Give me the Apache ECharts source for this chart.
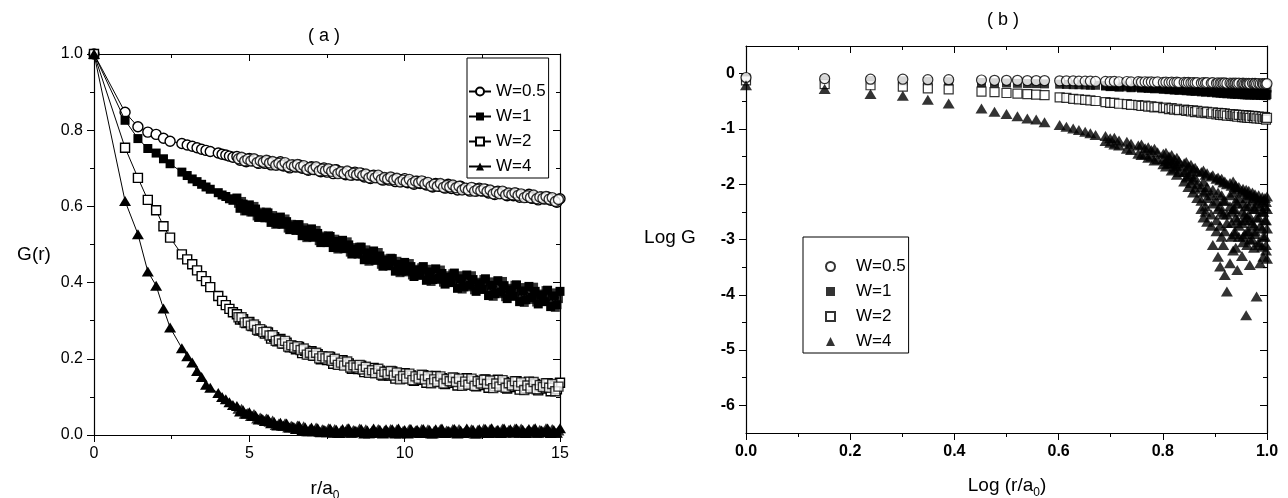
<!DOCTYPE html>
<html>
<head>
<meta charset="utf-8">
<script src="https://cdn.jsdelivr.net/npm/echarts@6/dist/echarts.min.js"></script>
<style>
html,body{margin:0;padding:0;background:#fff;}
#c{width:1288px;height:498px;}
</style>
</head>
<body>
<div id="c"></div>
<script>
// ---------- Panel (a): G(r) vs r/a0 ----------
const rL = [0,1,1.414,1.732,2,2.236,2.449,2.828,3,3.162,3.317,3.464,3.606,3.742,4,4.123,4.243,4.359,4.472,
4.6,4.7,4.8,4.9,5.0,5.1,5.2,5.3,5.4,5.5,
5.6,5.7,5.8,5.9,6.0,6.1,6.2,6.3,6.4,6.5,
6.6,6.7,6.8,6.9,7.0,7.1,7.2,7.3,7.4,7.5,
7.6,7.7,7.8,7.9,8.0,8.1,8.2,8.3,8.4,8.5,
8.6,8.7,8.8,8.9,9.0,9.1,9.2,9.3,9.4,9.5,
9.6,9.7,9.8,9.9,10.0,10.1,10.2,10.3,10.4,10.5,
10.6,10.7,10.8,10.9,11.0,11.1,11.2,11.3,11.4,11.5,
11.6,11.7,11.8,11.9,12.0,12.1,12.2,12.3,12.4,12.5,
12.6,12.7,12.8,12.9,13.0,13.1,13.2,13.3,13.4,13.5,
13.6,13.7,13.8,13.9,14.0,14.1,14.2,14.3,14.4,14.5,
14.6,14.7,14.8,14.9,15.0];

const gW05 = [1,0.847,0.809,0.795,0.789,0.779,0.771,0.765,0.761,0.758,0.754,0.750,0.747,0.744,0.740,0.737,0.735,0.732,0.729,
0.731,0.721,0.726,0.717,0.726,0.720,0.722,0.713,0.718,0.713,
0.719,0.709,0.715,0.709,0.717,0.706,0.709,0.701,0.709,0.703,
0.709,0.700,0.703,0.695,0.704,0.697,0.700,0.691,0.701,0.690,
0.696,0.686,0.696,0.688,0.690,0.683,0.690,0.682,0.690,0.682,
0.687,0.677,0.682,0.673,0.682,0.676,0.678,0.669,0.674,0.669,
0.675,0.665,0.671,0.665,0.673,0.662,0.666,0.658,0.666,0.660,
0.665,0.656,0.659,0.651,0.660,0.653,0.657,0.648,0.658,0.647,
0.653,0.643,0.653,0.645,0.647,0.640,0.648,0.640,0.648,0.640,
0.645,0.635,0.640,0.631,0.640,0.634,0.637,0.628,0.633,0.628,
0.634,0.624,0.630,0.624,0.632,0.621,0.625,0.617,0.625,0.619,
0.625,0.616,0.619,0.611,0.620];

const gW1 = [1,0.826,0.778,0.752,0.740,0.725,0.712,0.690,0.681,0.672,0.665,0.658,0.651,0.645,0.636,0.630,0.626,0.620,0.616,
0.622,0.595,0.606,0.589,0.604,0.586,0.593,0.571,0.581,0.570,
0.583,0.558,0.570,0.555,0.572,0.554,0.560,0.539,0.549,0.537,
0.552,0.523,0.538,0.521,0.541,0.520,0.529,0.505,0.518,0.505,
0.521,0.492,0.508,0.491,0.511,0.490,0.499,0.475,0.488,0.475,
0.493,0.460,0.478,0.460,0.483,0.460,0.470,0.443,0.458,0.444,
0.463,0.430,0.448,0.430,0.453,0.431,0.442,0.416,0.432,0.419,
0.442,0.406,0.428,0.408,0.436,0.411,0.424,0.396,0.414,0.400,
0.425,0.385,0.410,0.389,0.420,0.393,0.408,0.377,0.397,0.382,
0.410,0.366,0.393,0.371,0.405,0.375,0.392,0.358,0.381,0.364,
0.394,0.350,0.378,0.355,0.390,0.361,0.377,0.344,0.367,0.350,
0.380,0.337,0.365,0.342,0.377];

const gW2 = [1,0.754,0.675,0.617,0.590,0.548,0.518,0.474,0.461,0.448,0.432,0.417,0.404,0.388,0.365,0.352,0.341,0.331,0.322,
0.317,0.303,0.304,0.294,0.297,0.286,0.285,0.274,0.274,0.266,
0.269,0.253,0.257,0.246,0.252,0.240,0.242,0.230,0.233,0.225,
0.231,0.215,0.221,0.212,0.220,0.208,0.212,0.199,0.204,0.197,
0.205,0.187,0.196,0.185,0.196,0.184,0.188,0.174,0.180,0.173,
0.182,0.165,0.175,0.165,0.176,0.164,0.169,0.156,0.163,0.156,
0.167,0.148,0.159,0.149,0.162,0.150,0.156,0.142,0.151,0.145,
0.157,0.137,0.150,0.140,0.155,0.141,0.149,0.134,0.143,0.137,
0.150,0.130,0.143,0.133,0.149,0.135,0.143,0.128,0.138,0.131,
0.146,0.124,0.138,0.128,0.145,0.130,0.139,0.122,0.133,0.126,
0.141,0.119,0.133,0.123,0.140,0.125,0.134,0.117,0.128,0.122,
0.136,0.115,0.129,0.120,0.137];

const gW4 = [1,0.614,0.527,0.429,0.392,0.332,0.282,0.228,0.207,0.190,0.168,0.152,0.132,0.124,0.110,0.100,0.094,0.086,0.079,
0.076,0.062,0.065,0.056,0.060,0.050,0.051,0.041,0.043,0.037,
0.042,0.031,0.034,0.025,0.032,0.024,0.030,0.020,0.022,0.016,
0.025,0.012,0.020,0.010,0.020,0.011,0.018,0.007,0.014,0.007,
0.017,0.006,0.014,0.005,0.016,0.009,0.018,0.006,0.012,0.007,
0.016,0.004,0.012,0.005,0.017,0.007,0.014,0.004,0.015,0.006,
0.015,0.004,0.017,0.006,0.013,0.004,0.016,0.007,0.014,0.005,
0.016,0.005,0.013,0.004,0.015,0.008,0.017,0.005,0.011,0.006,
0.016,0.004,0.012,0.005,0.017,0.007,0.014,0.004,0.015,0.006,
0.016,0.005,0.018,0.007,0.014,0.005,0.017,0.008,0.015,0.006,
0.017,0.006,0.014,0.005,0.016,0.009,0.018,0.006,0.012,0.007,
0.017,0.005,0.013,0.006,0.018];

// extra sites lying between the sampled distances (dense tail of panel a)
const rMid = [4.65,4.75,4.85,4.95,5.05,5.15,5.25,5.35,5.45,5.55,
5.65,5.75,5.85,5.95,6.05,6.15,6.25,6.35,6.45,6.55,
6.65,6.75,6.85,6.95,7.05,7.15,7.25,7.35,7.45,7.55,
7.65,7.75,7.85,7.95,8.05,8.15,8.25,8.35,8.45,8.55,
8.65,8.75,8.85,8.95,9.05,9.15,9.25,9.35,9.45,9.55,
9.65,9.75,9.85,9.95,10.05,10.15,10.25,10.35,10.45,10.55,
10.65,10.75,10.85,10.95,11.05,11.15,11.25,11.35,11.45,11.55,
11.65,11.75,11.85,11.95,12.05,12.15,12.25,12.35,12.45,12.55,
12.65,12.75,12.85,12.95,13.05,13.15,13.25,13.35,13.45,13.55,
13.65,13.75,13.85,13.95,14.05,14.15,14.25,14.35,14.45,14.55,
14.65,14.75,14.85,14.95];

const gW05b = [0.725,0.729,0.719,0.724,0.719,0.725,0.715,0.720,0.716,0.721,
0.714,0.718,0.708,0.713,0.708,0.715,0.704,0.709,0.705,0.710,
0.703,0.707,0.697,0.702,0.697,0.704,0.693,0.698,0.694,0.699,
0.692,0.696,0.686,0.691,0.686,0.693,0.682,0.687,0.683,0.688,
0.681,0.685,0.675,0.680,0.675,0.682,0.671,0.676,0.672,0.677,
0.670,0.674,0.664,0.669,0.664,0.671,0.661,0.666,0.662,0.667,
0.659,0.663,0.653,0.658,0.653,0.660,0.650,0.655,0.651,0.656,
0.649,0.653,0.643,0.648,0.643,0.650,0.640,0.645,0.641,0.646,
0.639,0.643,0.633,0.638,0.633,0.640,0.630,0.635,0.631,0.636,
0.629,0.633,0.623,0.628,0.623,0.630,0.620,0.625,0.621,0.626,
0.619,0.623,0.613,0.618];

const gW1b = [0.608,0.613,0.588,0.596,0.585,0.600,0.575,0.585,0.577,0.585,
0.570,0.576,0.553,0.563,0.553,0.567,0.543,0.553,0.544,0.552,
0.537,0.544,0.518,0.530,0.519,0.537,0.510,0.522,0.513,0.523,
0.506,0.514,0.488,0.500,0.489,0.507,0.480,0.492,0.483,0.493,
0.475,0.486,0.456,0.470,0.458,0.479,0.448,0.462,0.453,0.464,
0.445,0.456,0.426,0.440,0.428,0.450,0.420,0.435,0.427,0.439,
0.422,0.435,0.403,0.421,0.408,0.433,0.401,0.418,0.408,0.423,
0.403,0.418,0.383,0.403,0.389,0.418,0.381,0.401,0.391,0.408,
0.385,0.402,0.364,0.386,0.371,0.403,0.363,0.385,0.374,0.393,
0.369,0.387,0.348,0.371,0.356,0.388,0.349,0.370,0.360,0.379,
0.356,0.373,0.335,0.358];

const gW2b = [0.309,0.309,0.295,0.296,0.287,0.290,0.276,0.278,0.270,0.271,
0.261,0.262,0.247,0.249,0.240,0.247,0.232,0.236,0.229,0.233,
0.223,0.227,0.211,0.216,0.208,0.216,0.201,0.207,0.201,0.206,
0.195,0.200,0.184,0.190,0.182,0.193,0.177,0.183,0.177,0.184,
0.172,0.179,0.163,0.170,0.162,0.174,0.158,0.166,0.160,0.168,
0.156,0.164,0.146,0.155,0.148,0.161,0.144,0.154,0.148,0.158,
0.146,0.155,0.136,0.146,0.139,0.154,0.135,0.147,0.141,0.151,
0.139,0.148,0.129,0.140,0.132,0.148,0.129,0.141,0.135,0.145,
0.134,0.143,0.123,0.135,0.127,0.144,0.124,0.136,0.130,0.141,
0.129,0.138,0.118,0.130,0.122,0.139,0.120,0.131,0.126,0.136,
0.124,0.134,0.115,0.127];

const gW4b = [0.069,0.069,0.056,0.058,0.050,0.055,0.043,0.046,0.040,0.043,
0.035,0.038,0.026,0.030,0.024,0.031,0.020,0.024,0.020,0.025,
0.018,0.023,0.010,0.016,0.010,0.020,0.008,0.015,0.011,0.018,
0.010,0.016,0.005,0.012,0.007,0.017,0.006,0.013,0.010,0.017,
0.009,0.015,0.004,0.011,0.006,0.016,0.005,0.012,0.009,0.016,
0.009,0.015,0.004,0.011,0.006,0.016,0.005,0.012,0.009,0.016,
0.009,0.015,0.004,0.011,0.006,0.016,0.005,0.012,0.009,0.016,
0.011,0.016,0.005,0.010,0.007,0.015,0.004,0.013,0.009,0.017,
0.010,0.016,0.005,0.012,0.007,0.017,0.006,0.013,0.010,0.017,
0.012,0.017,0.006,0.011,0.008,0.016,0.005,0.014,0.010,0.018,
0.010,0.016,0.005,0.012];

// ---------- Panel (b): Log G vs Log(r/a0) ----------
const L = [0,0.151,0.239,0.301,0.349,0.389,0.452,0.477,0.5,0.521,0.540,0.557,0.573,0.602,0.615,0.628,0.639,0.651,0.661,0.671,
0.690,0.699,0.707,0.716,0.731,0.739,0.753,0.759,0.766,0.772,
0.778,0.784,0.790,0.801,0.806,0.812,0.817,0.822,0.827,0.831,
0.841,0.845,0.849,0.854,0.858,0.862,0.866,0.874,0.878,0.882,
0.885,0.893,0.896,0.903,0.906,0.910,0.913,0.916,0.919,0.923,
0.929,0.932,0.935,0.938,0.940,0.943,0.946,0.952,0.954,0.957,
0.960,0.962,0.965,0.967,0.972,0.975,0.977,0.980,0.984,0.987,
0.991,0.993,0.996,0.998,1.0];

const logW05 = [-0.07,-0.09,-0.10,-0.10,-0.11,-0.11,-0.115,-0.12,-0.12,-0.12,-0.125,-0.125,-0.125,-0.13,-0.13,-0.13,-0.135,-0.135,-0.135,-0.14,
-0.140,-0.145,-0.140,-0.147,-0.142,-0.150,-0.145,-0.152,-0.147,-0.154,
-0.148,-0.156,-0.150,-0.158,-0.152,-0.160,-0.153,-0.162,-0.155,-0.163,
-0.157,-0.165,-0.158,-0.166,-0.160,-0.168,-0.161,-0.170,-0.162,-0.171,
-0.163,-0.172,-0.164,-0.174,-0.166,-0.175,-0.167,-0.176,-0.168,-0.177,
-0.169,-0.178,-0.170,-0.179,-0.171,-0.180,-0.172,-0.181,-0.173,-0.182,
-0.174,-0.183,-0.175,-0.184,-0.176,-0.185,-0.177,-0.186,-0.178,-0.187,
-0.179,-0.188,-0.180,-0.189,-0.180];

const logW1 = [-0.08,-0.11,-0.125,-0.13,-0.14,-0.145,-0.16,-0.165,-0.17,-0.175,-0.18,-0.18,-0.185,-0.19,-0.195,-0.2,-0.2,-0.205,-0.21,-0.21,
-0.215,-0.235,-0.218,-0.245,-0.220,-0.255,-0.222,-0.262,-0.225,-0.268,
-0.226,-0.275,-0.228,-0.285,-0.230,-0.290,-0.232,-0.298,-0.234,-0.303,
-0.236,-0.310,-0.238,-0.316,-0.240,-0.322,-0.275,-0.330,-0.242,-0.336,
-0.280,-0.343,-0.244,-0.350,-0.290,-0.355,-0.246,-0.360,-0.300,-0.365,
-0.248,-0.370,-0.305,-0.373,-0.250,-0.376,-0.310,-0.380,-0.252,-0.383,
-0.315,-0.386,-0.254,-0.388,-0.320,-0.390,-0.256,-0.392,-0.325,-0.394,
-0.258,-0.396,-0.330,-0.398,-0.260];

// second group of W=1 sites, from L[20] (0.690) onward
const logW1b = [-0.225,-0.228,-0.232,-0.236,-0.240,-0.243,-0.246,-0.250,-0.253,-0.256,
-0.260,-0.263,-0.266,-0.270,-0.273,-0.276,-0.280,-0.283,-0.286,-0.290,
-0.295,-0.298,-0.301,-0.304,-0.307,-0.310,-0.300,-0.316,-0.310,-0.322,
-0.318,-0.328,-0.322,-0.334,-0.326,-0.340,-0.330,-0.345,-0.334,-0.350,
-0.338,-0.352,-0.342,-0.356,-0.346,-0.360,-0.350,-0.362,-0.354,-0.366,
-0.358,-0.370,-0.360,-0.372,-0.364,-0.375,-0.366,-0.378,-0.370,-0.380,
-0.372,-0.383,-0.375,-0.386,-0.378];

const logW2 = [-0.12,-0.19,-0.21,-0.235,-0.265,-0.285,-0.325,-0.335,-0.35,-0.36,-0.37,-0.38,-0.39,-0.43,-0.44,-0.455,-0.465,-0.475,-0.485,-0.495,
-0.515,-0.530,-0.530,-0.545,-0.550,-0.565,-0.570,-0.585,-0.580,-0.595,
-0.590,-0.610,-0.600,-0.625,-0.615,-0.640,-0.625,-0.650,-0.635,-0.660,
-0.650,-0.675,-0.660,-0.685,-0.665,-0.695,-0.675,-0.705,-0.685,-0.715,
-0.690,-0.725,-0.700,-0.735,-0.710,-0.745,-0.715,-0.750,-0.720,-0.760,
-0.730,-0.765,-0.735,-0.770,-0.740,-0.780,-0.745,-0.785,-0.750,-0.790,
-0.755,-0.795,-0.760,-0.800,-0.765,-0.805,-0.770,-0.810,-0.775,-0.815,
-0.780,-0.820,-0.785,-0.830,-0.800];

const logW4 = [-0.21,-0.28,-0.37,-0.40,-0.47,-0.54,-0.63,-0.69,-0.73,-0.77,-0.81,-0.83,-0.88,-0.93,-0.96,-0.99,-1.02,-1.05,-1.08,-1.11,
-1.13,-1.17,-1.16,-1.21,-1.23,-1.27,-1.30,-1.28,-1.35,-1.33,
-1.38,-1.36,-1.42,-1.45,-1.43,-1.50,-1.47,-1.55,-1.52,-1.58,
-1.62,-1.60,-1.68,-1.65,-1.72,-1.70,-1.76,-1.78,-1.75,-1.83,
-1.80,-1.86,-1.84,-1.90,-1.88,-1.93,-1.90,-1.97,-1.95,-2.00,
-1.98,-2.03,-1.95,-2.05,-2.02,-2.08,-2.05,-2.12,-2.08,-2.15,
-2.10,-2.18,-2.12,-2.20,-2.15,-2.22,-2.18,-2.25,-2.20,-2.28,
-2.23,-2.30,-2.25,-2.32,-2.22];

// second group of W=4 sites, from L[20] (0.690) onward
const logW4lo = [-1.22,-1.25,-1.28,-1.30,-1.36,-1.38,-1.45,-1.47,-1.46,-1.52,
-1.50,-1.57,-1.55,-1.64,-1.68,-1.62,-1.75,-1.72,-1.83,-1.78,
-1.95,-1.88,-2.05,-1.98,-2.15,-2.08,-2.25,-2.30,-2.15,-2.40,
-2.25,-2.55,-2.35,-2.65,-2.45,-2.75,-2.50,-2.30,-2.85,-2.55,
-2.40,-2.70,-2.45,-2.90,-2.60,-2.35,-2.75,-2.50,-2.95,-2.65,
-2.40,-2.85,-2.55,-3.00,-2.70,-2.45,-2.90,-2.60,-3.05,-2.75,
-2.50,-2.95,-2.65,-3.10,-2.80];

// third group of W=4 sites, from L[33] (0.801) onward
const logW4mid = [-1.55,-1.58,-1.56,-1.62,-1.63,-1.68,-1.66,-1.78,-1.75,-1.85,
-1.82,-1.92,-1.88,-2.00,-2.05,-1.95,-2.12,-2.05,-2.20,-2.10,
-2.30,-2.15,-2.40,-2.20,-2.55,-2.30,-2.70,-2.20,-2.50,-2.15,
-2.45,-2.30,-2.65,-2.25,-2.70,-2.35,-2.55,-2.25,-2.60,-2.40,
-2.65,-2.30,-2.75,-2.45,-2.35,-2.60,-2.40,-2.80,-2.50,-2.40,
-2.65,-2.45];

// fourth group of W=4 sites (deep scatter), from L[47] (0.874) onward
const logW4out = [-2.45,-2.60,-2.50,-2.68,-2.75,-3.10,-2.85,-3.31,-3.49,-2.95,
-3.10,-3.64,-3.94,-3.43,-2.95,-3.20,-2.85,-3.15,-3.55,-2.95,
-3.30,-3.05,-2.90,-4.37,-3.10,-2.85,-3.46,-3.00,-3.15,-2.85,
-4.03,-3.10,-3.43,-3.13,-3.31,-2.95,-3.20,-3.35];

const namesA = ['W=0.5','W=1','W=2','W=4'];
const namesB = ['b:W=0.5','b:W=1','b:W=2','b:W=4'];
const yMajorB = [-6,-5,-4,-3,-2,-1,0];
const yMinorB = [-5.5,-4.5,-3.5,-2.5,-1.5,-0.5];

// ---------- build ----------
const FF = '"Liberation Sans", Arial, Helvetica, sans-serif';
const zip = (xs, ys) => ys.map((y, i) => [xs[i], y]);
const black = '#000';
const lineAx = {show: true, onZero: false, lineStyle: {color: black, width: 1.2}};

function xAx(grid, pos, min, max, interval, labelOpt, inside) {
  return {
    type: 'value', gridIndex: grid, position: pos, min: min, max: max, interval: interval,
    axisLine: lineAx,
    axisTick: {show: true, inside: inside, length: 7, lineStyle: {color: black, width: 1}},
    minorTick: {show: true, splitNumber: 2, length: 4, lineStyle: {color: black, width: 1}},
    splitLine: {show: false}, minorSplitLine: {show: false},
    axisLabel: labelOpt
  };
}

const labA = {show: true, margin: 11, color: black, fontSize: 16, fontFamily: FF};
const labB = {show: true, margin: 11, color: black, fontSize: 16, fontWeight: 'bold', fontFamily: FF};
const noLab = {show: false};

const xAxes = [
  xAx(0, 'bottom', 0, 15, 5, Object.assign({}, labA, {formatter: v => String(v)}), false),
  xAx(0, 'top', 0, 15, 5, noLab, true),
  xAx(1, 'bottom', 0, 1, 0.2, Object.assign({}, labB, {formatter: v => v.toFixed(1)}), false),
  xAx(1, 'top', 0, 1, 0.2, noLab, true)
];

const yAxes = [
  xAx(0, 'left', 0, 1, 0.2, Object.assign({}, labA, {formatter: v => v.toFixed(1)}), false),
  xAx(0, 'right', 0, 1, 0.2, noLab, true),
  {type: 'value', gridIndex: 1, position: 'left', min: -6.5, max: 0.5,
   axisLine: lineAx,
   axisTick: {show: true, inside: false, length: 7, customValues: yMajorB, lineStyle: {color: black}},
   axisLabel: Object.assign({}, labB, {customValues: yMajorB, formatter: v => String(v)}),
   splitLine: {show: false}},
  {type: 'value', gridIndex: 1, position: 'left', min: -6.5, max: 0.5,
   axisLine: {show: false, onZero: false},
   axisTick: {show: true, inside: false, length: 4, customValues: yMinorB, lineStyle: {color: black}},
   axisLabel: {show: false, customValues: yMinorB},
   splitLine: {show: false}},
  {type: 'value', gridIndex: 1, position: 'right', min: -6.5, max: 0.5,
   axisLine: lineAx,
   axisTick: {show: true, inside: true, length: 7, customValues: yMajorB, lineStyle: {color: black}},
   axisLabel: {show: false, customValues: yMajorB},
   splitLine: {show: false}},
  {type: 'value', gridIndex: 1, position: 'right', min: -6.5, max: 0.5,
   axisLine: {show: false, onZero: false},
   axisTick: {show: true, inside: true, length: 4, customValues: yMinorB, lineStyle: {color: black}},
   axisLabel: {show: false, customValues: yMinorB},
   splitLine: {show: false}}
];

const openA = {color: '#fff', borderColor: black, borderWidth: 1.4};
const openB = {color: '#fff', borderColor: black, borderWidth: 1.2};
const fillStyle = {color: black, borderColor: black, borderWidth: 0};

function lineSer(name, ys, symbol, size, style, z) {
  return {
    type: 'line', name: name, xAxisIndex: 0, yAxisIndex: 0, data: zip(rL, ys),
    symbol: symbol, symbolSize: size, showSymbol: true, showAllSymbol: true,
    itemStyle: style, lineStyle: {color: black, width: 1},
    emphasis: {disabled: true}, z: z, animation: false
  };
}
function scatSer(name, xi, yi, xs, ys, symbol, size, style, z) {
  return {
    type: 'scatter', name: name, xAxisIndex: xi, yAxisIndex: yi, data: zip(xs, ys),
    symbol: symbol, symbolSize: size, itemStyle: style,
    emphasis: {disabled: true}, z: z, animation: false
  };
}

const triA = [12, 10];
const triB = [12, 10];
const series = [
  // panel (a): line series first so the legend shows line + symbol icons
  lineSer(namesA[0], gW05, 'circle', 10, openA, 2),
  lineSer(namesA[1], gW1, 'rect', 9, fillStyle, 3),
  lineSer(namesA[2], gW2, 'rect', 9, openA, 4),
  lineSer(namesA[3], gW4, 'triangle', triA, fillStyle, 5),
  scatSer(namesA[0], 0, 0, rMid, gW05b, 'circle', 10, openA, 2),
  scatSer(namesA[1], 0, 0, rMid, gW1b, 'rect', 9, fillStyle, 3),
  scatSer(namesA[2], 0, 0, rMid, gW2b, 'rect', 9, openA, 4),
  scatSer(namesA[3], 0, 0, rMid, gW4b, 'triangle', triA, fillStyle, 5),

  // panel (b)
  scatSer(namesB[0], 2, 2, L, logW05, 'circle', 10, openB, 4),
  scatSer(namesB[1], 2, 2, L, logW1, 'rect', 9, fillStyle, 2),
  scatSer(namesB[2], 2, 2, L, logW2, 'rect', 9, openB, 3),
  scatSer(namesB[3], 2, 2, L, logW4, 'triangle', triB, fillStyle, 5),
  scatSer(namesB[1], 2, 2, L.slice(20), logW1b, 'rect', 9, fillStyle, 2),
  scatSer(namesB[3], 2, 2, L.slice(20), logW4lo, 'triangle', triB, fillStyle, 5),
  scatSer(namesB[3], 2, 2, L.slice(33), logW4mid, 'triangle', triB, fillStyle, 5),
  scatSer(namesB[3], 2, 2, L.slice(47), logW4out, 'triangle', triB, fillStyle, 5)
];

const legendText = {color: black, fontSize: 17, fontFamily: FF, lineHeight: 14};

const option = {
  backgroundColor: '#fff',
  animation: false,
  grid: [
    {left: 94, top: 54, width: 466, height: 381, containLabel: false},
    {left: 746, top: 46, width: 521, height: 387, containLabel: false}
  ],
  xAxis: xAxes,
  yAxis: yAxes,
  legend: [
    {data: namesA, orient: 'vertical', left: 467, top: 58, selectedMode: false,
     backgroundColor: '#fff', borderColor: black, borderWidth: 1, borderRadius: 0,
     padding: [25, 3, 3, 1], itemGap: 8, itemWidth: 22, itemHeight: 10,
     textStyle: legendText},
    {data: namesB, orient: 'vertical', left: 803, top: 237, selectedMode: false,
     backgroundColor: '#fff', borderColor: black, borderWidth: 1, borderRadius: 0,
     padding: [21, 3, 3, 22], itemGap: 8, itemWidth: 9, itemHeight: 9,
     formatter: n => n.slice(2),
     textStyle: Object.assign({}, legendText, {padding: [0, 0, 0, 16]})}
  ],
  graphic: [
    {type: 'text', x: 324, y: 36, style: {text: '( a )', font: '18px ' + FF, fill: black, align: 'center', verticalAlign: 'middle', textAlign: 'center', textVerticalAlign: 'middle'}},
    {type: 'text', x: 1003, y: 20, style: {text: '( b )', font: '18px ' + FF, fill: black, align: 'center', verticalAlign: 'middle', textAlign: 'center', textVerticalAlign: 'middle'}},
    {type: 'text', x: 34, y: 255, style: {text: 'G(r)', font: '19px ' + FF, fill: black, align: 'center', verticalAlign: 'middle', textAlign: 'center', textVerticalAlign: 'middle'}},
    {type: 'text', x: 670, y: 238, style: {text: 'Log G', font: '19px ' + FF, fill: black, align: 'center', verticalAlign: 'middle', textAlign: 'center', textVerticalAlign: 'middle'}},
    {type: 'text', x: 325, y: 489, style: {text: 'r/a{s|0}', font: '19px ' + FF, fill: black, align: 'center', verticalAlign: 'middle', textAlign: 'center', textVerticalAlign: 'middle',
      rich: {s: {fontSize: 12, fontFamily: FF, verticalAlign: 'bottom', lineHeight: 26}}}},
    {type: 'text', x: 1007, y: 486, style: {text: 'Log (r/a{s|0})', font: '19px ' + FF, fill: black, align: 'center', verticalAlign: 'middle', textAlign: 'center', textVerticalAlign: 'middle',
      rich: {s: {fontSize: 12, fontFamily: FF, verticalAlign: 'bottom', lineHeight: 26}}}}
  ],
  series: series
};

const chart = echarts.init(document.getElementById('c'), null, {renderer: 'canvas'});
chart.setOption(option);
</script>
</body>
</html>
